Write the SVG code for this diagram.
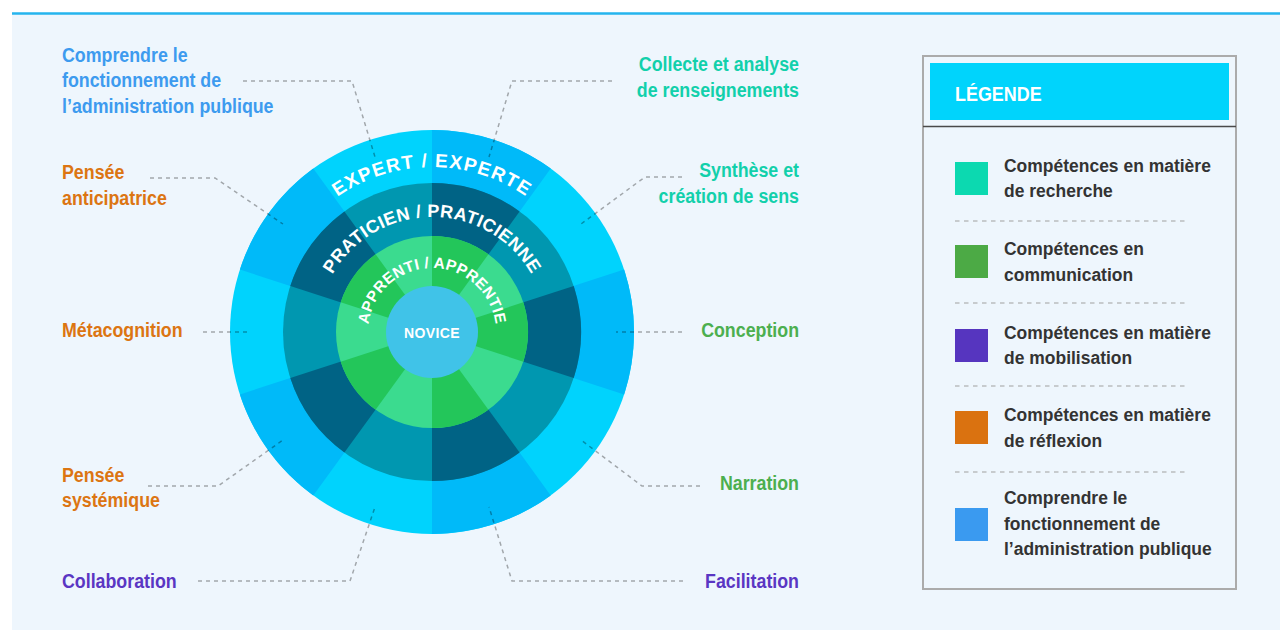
<svg xmlns="http://www.w3.org/2000/svg" xmlns:xlink="http://www.w3.org/1999/xlink" width="1280" height="630" viewBox="0 0 1280 630">
<style>
.lbl{font-family:"Liberation Sans",Arial,sans-serif;font-weight:bold;font-size:20px}
.blue{fill:#3D9BEF}.teal{fill:#12D0AB}.orange{fill:#DC7512}.green{fill:#4CAF4F}.purple{fill:#5A36C3}
.lead{fill:none;stroke:#000;stroke-opacity:.32;stroke-width:1.5;stroke-dasharray:4 4}
.ring{font-family:"Liberation Sans",Arial,sans-serif;font-weight:bold;fill:#fff}
.lg{font-family:"Liberation Sans",Arial,sans-serif;font-weight:bold;font-size:19px;fill:#333}
.sep{stroke:#A0A0A0;stroke-width:1.2;stroke-dasharray:4.5 4.5}
</style>
<defs>
<path id="arcExpert" d="M267,332 A165,165 0 0 1 597,332"/>
<path id="arcPrat" d="M317,332 A115,115 0 0 1 547,332"/>
<path id="arcApp" d="M368,332 A64,64 0 0 1 496,332"/>
</defs>
<rect width="1280" height="630" fill="#FFFFFF"/>
<rect x="12" y="14" width="1268" height="616" fill="#EEF6FD"/>
<line x1="12" y1="13.5" x2="1280" y2="13.5" stroke="#25B4EE" stroke-width="2.5"/>

<g id="wheel" transform="translate(432 332)">
  <g id="ring-expert">
    <circle r="202" fill="#00D3FD"/>
    <g fill="#00BAF9">
      <path d="M0,0 L0,-202 A202,202 0 0 1 118.73,-163.42Z"/>
      <path d="M0,0 L192.11,-62.42 A202,202 0 0 1 192.11,62.42Z"/>
      <path d="M0,0 L118.73,163.42 A202,202 0 0 1 0,202Z"/>
      <path d="M0,0 L-118.73,163.42 A202,202 0 0 1 -192.11,62.42Z"/>
      <path d="M0,0 L-192.11,-62.42 A202,202 0 0 1 -118.73,-163.42Z"/>
    </g>
  </g>
  <g id="ring-praticien">
    <circle r="149" fill="#0097B0"/>
    <g fill="#006385">
      <path d="M0,0 L0,-149 A149,149 0 0 1 87.58,-120.54Z"/>
      <path d="M0,0 L141.71,-46.04 A149,149 0 0 1 141.71,46.04Z"/>
      <path d="M0,0 L87.58,120.54 A149,149 0 0 1 0,149Z"/>
      <path d="M0,0 L-87.58,120.54 A149,149 0 0 1 -141.71,46.04Z"/>
      <path d="M0,0 L-141.71,-46.04 A149,149 0 0 1 -87.58,-120.54Z"/>
    </g>
  </g>
  <g id="ring-apprenti">
    <circle r="96" fill="#3BDB8F"/>
    <g fill="#23C65A">
      <path d="M0,0 L0,-96 A96,96 0 0 1 56.43,-77.67Z"/>
      <path d="M0,0 L91.30,-29.67 A96,96 0 0 1 91.30,29.67Z"/>
      <path d="M0,0 L56.43,77.67 A96,96 0 0 1 0,96Z"/>
      <path d="M0,0 L-56.43,77.67 A96,96 0 0 1 -91.30,29.67Z"/>
      <path d="M0,0 L-91.30,-29.67 A96,96 0 0 1 -56.43,-77.67Z"/>
    </g>
  </g>
  <g id="novice">
    <circle r="46" fill="#40C3E8"/>
    <text class="ring" x="0" y="6" font-size="14" letter-spacing="0.4" text-anchor="middle">NOVICE</text>
  </g>
</g>
<g id="ring-labels">
  <text class="ring" font-size="19" letter-spacing="1.3" text-anchor="middle"><textPath href="#arcExpert" xlink:href="#arcExpert" startOffset="50%">EXPERT / EXPERTE</textPath></text>
  <text class="ring" font-size="18" letter-spacing="0.4" text-anchor="middle"><textPath href="#arcPrat" xlink:href="#arcPrat" startOffset="50%">PRATICIEN / PRATICIENNE</textPath></text>
  <text class="ring" font-size="15.5" letter-spacing="0.3" text-anchor="middle"><textPath href="#arcApp" xlink:href="#arcApp" startOffset="50%">APPRENTI / APPRENTIE</textPath></text>
</g>

<g id="connectors">
  <path class="lead" d="M243,81 H352 L375,157"/>
  <path class="lead" d="M612,81 H512 L489,157"/>
  <path class="lead" d="M150,178 H215 L283,224"/>
  <path class="lead" d="M682,177 H645 L581,224"/>
  <path class="lead" d="M203,332 H248"/>
  <path class="lead" d="M682,332 H616"/>
  <path class="lead" d="M148,486 H218 L283,440"/>
  <path class="lead" d="M700,486 H642 L581,440"/>
  <path class="lead" d="M198,581 H350 L375,507"/>
  <path class="lead" d="M683,581 H512 L489,507"/>
</g>

<g id="label-comprendre"><text class="lbl blue" transform="translate(62 61.5) scale(0.89 1)"><tspan x="0" y="0">Comprendre le</tspan><tspan x="0" y="26">fonctionnement de</tspan><tspan x="0" y="52">l’administration publique</tspan></text></g>
<g id="label-collecte"><text class="lbl teal" text-anchor="end" transform="translate(799 71) scale(0.89 1)"><tspan x="0" y="0">Collecte et analyse</tspan><tspan x="0" y="26">de renseignements</tspan></text></g>
<g id="label-anticipatrice"><text class="lbl orange" transform="translate(62 179) scale(0.89 1)"><tspan x="0" y="0">Pensée</tspan><tspan x="0" y="26">anticipatrice</tspan></text></g>
<g id="label-synthese"><text class="lbl teal" text-anchor="end" transform="translate(799 177) scale(0.89 1)"><tspan x="0" y="0">Synthèse et</tspan><tspan x="0" y="26">création de sens</tspan></text></g>
<g id="label-metacognition"><text class="lbl orange" transform="translate(62 336.5) scale(0.89 1)">Métacognition</text></g>
<g id="label-conception"><text class="lbl green" text-anchor="end" transform="translate(799 337) scale(0.89 1)">Conception</text></g>
<g id="label-systemique"><text class="lbl orange" transform="translate(62 482) scale(0.89 1)"><tspan x="0" y="0">Pensée</tspan><tspan x="0" y="25.5">systémique</tspan></text></g>
<g id="label-narration"><text class="lbl green" text-anchor="end" transform="translate(799 490) scale(0.89 1)">Narration</text></g>
<g id="label-collaboration"><text class="lbl purple" transform="translate(62 588) scale(0.89 1)">Collaboration</text></g>
<g id="label-facilitation"><text class="lbl purple" text-anchor="end" transform="translate(799 588) scale(0.89 1)">Facilitation</text></g>

<g id="legend">
  <rect x="923" y="56" width="313" height="533" fill="none" stroke="#ABABAB" stroke-width="2"/>
  <rect x="930" y="63" width="299" height="57" fill="#00D4FC"/>
  <line x1="923" y1="126.5" x2="1236" y2="126.5" stroke="#4A4A4A" stroke-width="1.5"/>
  <text transform="translate(955 101) scale(0.92 1)" font-family="Liberation Sans, Arial, sans-serif" font-weight="bold" font-size="19.5" fill="#fff">LÉGENDE</text>
  <g id="legend-recherche"><rect x="955" y="162" width="33" height="33" fill="#0CD9B0"/><text class="lg" transform="translate(1004 171.5) scale(0.92 1)"><tspan x="0" y="0">Compétences en matière</tspan><tspan x="0" y="25.7">de recherche</tspan></text></g>
  <line class="sep" x1="955" y1="221" x2="1187" y2="221"/>
  <g id="legend-communication"><rect x="955" y="245" width="33" height="33" fill="#4CAA45"/><text class="lg" transform="translate(1004 255) scale(0.92 1)"><tspan x="0" y="0">Compétences en</tspan><tspan x="0" y="25.7">communication</tspan></text></g>
  <line class="sep" x1="955" y1="303" x2="1187" y2="303"/>
  <g id="legend-mobilisation"><rect x="955" y="329" width="33" height="33" fill="#5635BF"/><text class="lg" transform="translate(1004 338.5) scale(0.92 1)"><tspan x="0" y="0">Compétences en matière</tspan><tspan x="0" y="25.7">de mobilisation</tspan></text></g>
  <line class="sep" x1="955" y1="386" x2="1187" y2="386"/>
  <g id="legend-reflexion"><rect x="955" y="411" width="33" height="33" fill="#DA7210"/><text class="lg" transform="translate(1004 421) scale(0.92 1)"><tspan x="0" y="0">Compétences en matière</tspan><tspan x="0" y="25.7">de réflexion</tspan></text></g>
  <line class="sep" x1="955" y1="472" x2="1187" y2="472"/>
  <g id="legend-administration"><rect x="955" y="508" width="33" height="33" fill="#3A9AF0"/><text class="lg" transform="translate(1004 504) scale(0.92 1)"><tspan x="0" y="0">Comprendre le</tspan><tspan x="0" y="25.7">fonctionnement de</tspan><tspan x="0" y="51.4">l’administration publique</tspan></text></g>
</g>
</svg>
